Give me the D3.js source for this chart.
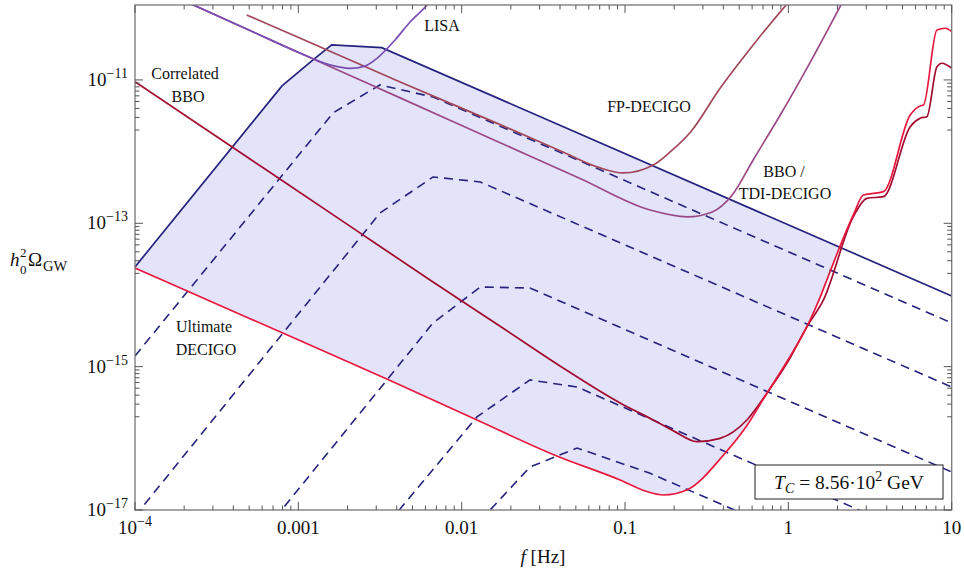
<!DOCTYPE html>
<html lang="en">
<head>
<meta charset="utf-8">
<script src="https://d3js.org/d3.v7.min.js"></script>
<style>
  body { margin: 0; background: #fff; }
  svg text { font-family: "Liberation Serif", "Times New Roman", Times, "DejaVu Serif", serif; fill: #111; }
</style>
</head>
<body>
<script>
// ---- values ----
// upper envelope (solid navy)
var envF     = [1e-4, 7.94e-4, 1.23e-3, 1.60e-3, 3.24e-3, 10];
var envOmega = [2.46e-14, 8.24e-12, 1.90e-11, 3.08e-11, 2.82e-11, 9.68e-15];

// dashed navy spectra
var dashF = [
  [1e-4, 1.63e-3, 3.16e-3, 6.68e-3, 10],
  [1e-4, 3.16e-3, 6.68e-3, 1.30e-2, 10],
  [6.3e-4, 6.68e-3, 1.30e-2, 2.62e-2, 10],
  [3.6e-3, 1.24e-2, 2.62e-2, 5.09e-2, 10],
  [1.30e-2, 2.62e-2, 5.09e-2, 0.1425, 10]
];
var dashOmega = [
  [1.41e-15, 3.46e-12, 8.51e-12, 5.78e-12, 4.07e-15],
  [8.2e-18, 1.39e-13, 4.43e-13, 3.77e-13, 5.20e-16],
  [5.3e-18, 4.07e-15, 1.29e-14, 1.25e-14, 3.39e-17],
  [6.8e-18, 1.99e-16, 6.52e-16, 5.20e-16, 2.73e-18],
  [7.1e-18, 3.98e-17, 7.33e-17, 3.25e-17, 4.8e-19]
];

// detector sensitivities
var lisaF     = [1.53e-4, 5.06e-4, 1.02e-3, 1.56e-3, 2.07e-3, 2.56e-3, 3.03e-3, 3.91e-3, 4.83e-3, 6.14e-3, 7.37e-3];
var lisaOmega = [1.67e-10, 4.89e-11, 2.38e-11, 1.62e-11, 1.45e-11, 1.56e-11, 2.00e-11, 3.61e-11, 6.44e-11, 1.11e-10, 1.92e-10];

var bboF     = [1.53e-4, 5.06e-4, 1.02e-3, 4.20e-3, 1.72e-2, 5.31e-2, 0.1425, 0.240, 0.342, 0.453, 0.609, 0.890, 1.36, 2.23];
var bboOmega = [1.67e-10, 4.89e-11, 2.38e-11, 5.62e-12, 1.33e-12, 4.21e-13, 1.53e-13, 1.23e-13, 1.44e-13, 2.48e-13, 7.65e-13, 3.21e-12, 1.76e-11, 1.44e-10];

var fpF     = [4.83e-4, 1.02e-3, 4.20e-3, 1.72e-2, 4.00e-2, 7.04e-2, 9.73e-2, 0.149, 0.189, 0.252, 0.382, 0.609, 1.03];
var fpOmega = [8.07e-11, 3.85e-11, 9.37e-12, 2.38e-12, 1.03e-12, 5.92e-13, 5.04e-13, 6.51e-13, 9.89e-13, 1.88e-12, 7.66e-12, 3.08e-11, 1.31e-10];

var corrF     = [1e-4, 5.06e-4, 2.07e-3, 6.40e-3, 1.72e-2, 4.00e-2, 9.33e-2, 0.149, 0.203, 0.275, 0.382, 0.557, 0.739, 0.979, 1.30, 1.64, 2.50, 3.02, 3.82, 5.57, 6.41, 7.05, 8.12, 8.71, 10];
var corrOmega = [9.46e-12, 7.89e-13, 9.12e-14, 1.62e-14, 3.66e-15, 1.02e-15, 3.11e-16, 1.80e-16, 1.23e-16, 8.97e-17, 9.99e-17, 1.80e-16, 4.25e-16, 1.11e-15, 3.61e-15, 8.51e-15, 1.24e-13, 2.23e-13, 2.35e-13, 2.23e-12, 2.92e-12, 3.07e-12, 1.53e-11, 1.71e-11, 1.46e-11];

var ultF     = [1e-4, 5.06e-4, 3.48e-3, 1.24e-2, 3.82e-2, 9.33e-2, 0.133, 0.172, 0.239, 0.401, 0.544, 0.739, 0.979, 1.30, 1.57, 1.72, 2.50, 2.88, 3.82, 5.57, 6.41, 6.72, 8.12, 9.12, 10];
var ultOmega = [2.38e-14, 4.67e-15, 6.73e-16, 1.80e-16, 5.67e-17, 2.62e-17, 1.84e-17, 1.62e-17, 1.90e-17, 5.85e-17, 1.39e-16, 4.25e-16, 1.17e-15, 3.61e-15, 9.46e-15, 1.62e-14, 1.31e-13, 2.48e-13, 2.76e-13, 3.24e-12, 4.34e-12, 4.47e-12, 4.98e-11, 5.26e-11, 4.72e-11];

// ticks
var xTickVals   = [1e-4, 1e-3, 1e-2, 1e-1, 1, 10];
var xTickLabels = ["10|−4", "0.001", "0.01", "0.1", "1", "10"];
var yTickExps   = [-17, -15, -13, -11];

// ---- layout ----
var W = 964, H = 572;
var L = 135, R = 951.7, T = 5, B = 510;

var x = d3.scaleLog().domain([1e-4, 10]).range([L, R]);
var y = d3.scaleLog().domain([1e-17, 1.11e-10]).range([B, T]);

var svg = d3.select("body").append("svg")
    .attr("width", W)
    .attr("height", H)
    .attr("font-family", "Liberation Serif, Times New Roman, serif");

var defs = svg.append("defs");
defs.append("clipPath").attr("id", "plotClip")
  .append("rect").attr("x", L).attr("y", T).attr("width", R - L).attr("height", B - T);

function pts(fs, os) {
  return fs.map(function(f, i) { return [f, os[i]]; });
}

var lineLin = d3.line()
    .x(function(d) { return x(d[0]); })
    .y(function(d) { return y(d[1]); });
var lineSmooth = d3.line()
    .curve(d3.curveMonotoneX)
    .x(function(d) { return x(d[0]); })
    .y(function(d) { return y(d[1]); });

// region above Ultimate DECIGO, used to clip the shaded band
defs.append("clipPath").attr("id", "aboveUlt")
  .append("path")
  .attr("d", d3.area()
      .curve(d3.curveMonotoneX)
      .x(function(d) { return x(d[0]); })
      .y0(T - 50)
      .y1(function(d) { return y(d[1]); })(pts(ultF, ultOmega)));

var plot = svg.append("g").attr("clip-path", "url(#plotClip)");

plot.append("g").attr("clip-path", "url(#aboveUlt)")
  .append("path")
  .attr("d", d3.area()
      .x(function(d) { return x(d[0]); })
      .y0(B + 50)
      .y1(function(d) { return y(d[1]); })(pts(envF, envOmega)))
  .attr("fill", "#e3e3fa");

dashF.forEach(function(fs, i) {
  plot.append("path")
    .attr("d", lineLin(pts(fs, dashOmega[i])))
    .attr("fill", "none")
    .attr("stroke", "#25237d")
    .attr("stroke-width", 1.6)
    .attr("stroke-dasharray", "9,6");
});

plot.append("path")
  .attr("d", lineLin(pts(envF, envOmega)))
  .attr("fill", "none")
  .attr("stroke", "#25237d")
  .attr("stroke-width", 1.7);

var curves = [
  {f: bboF, o: bboOmega, c: "#9b4a86"},
  {f: fpF, o: fpOmega, c: "#a2465a"},
  {f: lisaF, o: lisaOmega, c: "#7a4db3"},
  {f: corrF, o: corrOmega, c: "#a30b30"},
  {f: ultF, o: ultOmega, c: "#e8173c"}
];
curves.forEach(function(s) {
  plot.append("path")
    .attr("d", lineSmooth(pts(s.f, s.o)))
    .attr("fill", "none")
    .attr("stroke", s.c)
    .attr("stroke-width", 1.7);
});

// ---- frame and ticks ----
svg.append("rect")
  .attr("x", L).attr("y", T).attr("width", R - L).attr("height", B - T)
  .attr("fill", "none").attr("stroke", "#777").attr("stroke-width", 1.3);

var tk = svg.append("g").attr("stroke", "#555").attr("stroke-width", 1);
for (var e = -4; e <= 1; e++) {
  for (var k = 1; k <= 9; k++) {
    var v = k * Math.pow(10, e);
    if (v > 10) break;
    var len = k === 1 ? 8 : 4.5;
    var px = x(v);
    tk.append("line").attr("x1", px).attr("x2", px).attr("y1", B).attr("y2", B - len);
    tk.append("line").attr("x1", px).attr("x2", px).attr("y1", T).attr("y2", T + len);
  }
}
yTickExps.forEach(function(n) {
  var marks = [[Math.pow(10, n), 8]];
  for (var k = 2; k <= 9; k++) marks.push([k * Math.pow(10, n - 1), 4.5]);
  marks.forEach(function(m) {
    if (m[0] < 1e-17) return;
    var py = y(m[0]);
    tk.append("line").attr("x1", L).attr("x2", L + m[1]).attr("y1", py).attr("y2", py);
    tk.append("line").attr("x1", R).attr("x2", R - m[1]).attr("y1", py).attr("y2", py);
  });
});

// tick labels
xTickVals.forEach(function(v, i) {
  var t = svg.append("text")
    .attr("x", x(v))
    .attr("y", 534)
    .attr("text-anchor", "middle")
    .attr("font-size", 19);
  var parts = xTickLabels[i].split("|");
  t.append("tspan").text(parts[0]);
  if (parts[1]) t.append("tspan").attr("dy", -8).attr("font-size", 14).text(parts[1]);
});
yTickExps.forEach(function(n) {
  var t = svg.append("text")
    .attr("x", 128)
    .attr("y", y(Math.pow(10, n)) + 6)
    .attr("text-anchor", "end")
    .attr("font-size", 19);
  t.append("tspan").text("10");
  t.append("tspan").attr("dy", -8).attr("font-size", 14).text("−" + (-n));
});

// axis titles
var xt = svg.append("text").attr("x", 543).attr("y", 563)
  .attr("text-anchor", "middle").attr("font-size", 19);
xt.append("tspan").attr("font-style", "italic").text("f");
xt.append("tspan").text(" [Hz]");

var yt = svg.append("g").attr("font-size", 19);
yt.append("text").attr("x", 10).attr("y", 266).attr("font-style", "italic").text("h");
yt.append("text").attr("x", 20).attr("y", 257).attr("font-size", 13).text("2");
yt.append("text").attr("x", 20).attr("y", 274).attr("font-size", 13).text("0");
yt.append("text").attr("x", 28).attr("y", 266).text("Ω");
yt.append("text").attr("x", 43).attr("y", 271).attr("font-size", 14.5).text("GW");

// curve labels
var labels = [
  {t: "LISA", x: 442, y: 31},
  {t: "FP-DECIGO", x: 649, y: 112},
  {t: "BBO /", x: 784, y: 177},
  {t: "TDI-DECIGO", x: 785, y: 199},
  {t: "Correlated", x: 185, y: 79},
  {t: "BBO", x: 188, y: 102},
  {t: "Ultimate", x: 204, y: 332},
  {t: "DECIGO", x: 206, y: 355}
];
labels.forEach(function(d) {
  svg.append("text")
    .attr("x", d.x).attr("y", d.y)
    .attr("text-anchor", "middle")
    .attr("font-size", 16)
    .text(d.t);
});

// temperature box
svg.append("rect")
  .attr("x", 755).attr("y", 465).attr("width", 188).attr("height", 34)
  .attr("fill", "#fff").attr("stroke", "#222").attr("stroke-width", 1);
var bt = svg.append("text").attr("x", 849).attr("y", 489)
  .attr("text-anchor", "middle").attr("font-size", 19.5);
bt.append("tspan").attr("font-style", "italic").text("T");
bt.append("tspan").attr("font-style", "italic").attr("font-size", 14).attr("dy", 4).text("C");
bt.append("tspan").attr("dy", -4).text(" = 8.56·10");
bt.append("tspan").attr("dy", -8).attr("font-size", 14).text("2");
bt.append("tspan").attr("dy", 8).text(" GeV");
</script>
</body>
</html>
